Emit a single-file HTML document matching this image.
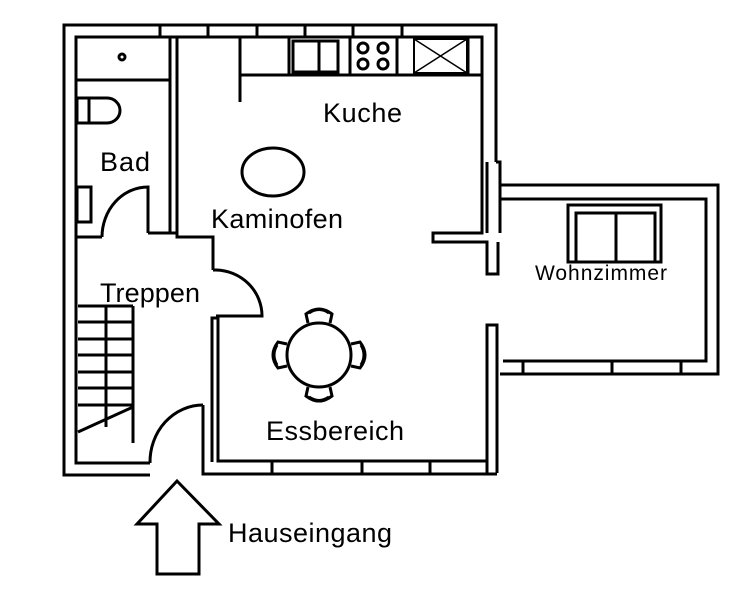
<!DOCTYPE html>
<html><head><meta charset="utf-8"><style>
html,body{margin:0;padding:0;background:#fff;width:751px;height:592px;overflow:hidden}
svg{display:block}
text{font-family:"Liberation Sans",sans-serif;fill:#000}
</style></head><body>
<svg width="751" height="592" viewBox="0 0 751 592" xmlns="http://www.w3.org/2000/svg">
<g fill="none" stroke="#000" stroke-width="3">
<polyline points="150,475 64,475 64,25 496,25 496,162"/>
<polyline points="150,463 76,463 76,37 482,37 482,162"/>
<line x1="160" y1="25" x2="160" y2="37"/><line x1="208" y1="25" x2="208" y2="37"/><line x1="257" y1="25" x2="257" y2="37"/><line x1="305" y1="25" x2="305" y2="37"/><line x1="353" y1="25" x2="353" y2="37"/><line x1="402" y1="25" x2="402" y2="37"/>
<polyline points="482,162 482,233 433,233 433,242 487,242 487,274 498,274 498,242"/>
<polyline points="496,162 500,162 500,233"/>
<line x1="487" y1="162" x2="487" y2="233"/>
<polyline points="487,473 487,325 497,325 497,473"/>
<polyline points="203,405 203,474 497,474"/>
<polyline points="212,462 212,318 218,318 218,461 487,461"/>
<line x1="272" y1="461" x2="272" y2="474"/><line x1="362" y1="461" x2="362" y2="474"/><line x1="430" y1="461" x2="430" y2="474"/>
<path d="M150,463 A53,57 0 0 1 203,405"/>
<polyline points="170,37 170,233 148,233"/>
<polyline points="177,37 177,237 213,237 213,270"/>
<polyline points="102,237 76,237"/>
<line x1="170" y1="233" x2="177" y2="233"/>
<path d="M102,237 A46,50 0 0 1 148,187 L148,233"/>
<line x1="76" y1="80" x2="170" y2="80"/>
<circle cx="122" cy="57" r="3"/>
<rect x="77" y="98" width="12" height="25"/>
<path d="M89,98 L107,98 A13,12.5 0 0 1 107,123 L89,123"/>
<rect x="77" y="187" width="14" height="35"/>
<polyline points="213,270 218,270"/>
<path d="M216,270 A47,46 0 0 1 262,316 L216,316"/>
<line x1="78" y1="306" x2="133" y2="306"/><line x1="78" y1="322" x2="133" y2="322"/><line x1="78" y1="339" x2="133" y2="339"/><line x1="78" y1="355" x2="133" y2="355"/><line x1="78" y1="372" x2="133" y2="372"/><line x1="78" y1="388" x2="133" y2="388"/><line x1="78" y1="405" x2="133" y2="405"/>
<line x1="133" y1="306" x2="133" y2="443"/><line x1="106" y1="306" x2="106" y2="427"/>
<line x1="78" y1="432" x2="133" y2="407"/>
<polyline points="240,102 240,37"/>
<line x1="240" y1="75" x2="482" y2="75"/>
<line x1="289" y1="37" x2="289" y2="75"/><line x1="350" y1="37" x2="350" y2="75"/><line x1="397" y1="37" x2="397" y2="75"/><line x1="468" y1="37" x2="468" y2="75"/>
<rect x="293" y="41" width="45" height="31"/><line x1="319" y1="41" x2="319" y2="72"/>
<circle cx="363" cy="48" r="5"/><circle cx="383" cy="48" r="5"/><circle cx="363" cy="64" r="5"/><circle cx="383" cy="64" r="5"/>
<rect x="414" y="39" width="53" height="34" stroke-width="2"/><line x1="414" y1="39" x2="467" y2="73" stroke-width="1.5"/><line x1="467" y1="39" x2="414" y2="73" stroke-width="1.5"/>
<ellipse cx="273" cy="172" rx="31" ry="24"/>
<circle cx="319" cy="355" r="32"/>
<path d="M308,323 L306,314 Q319,304 332,314 L330,323"/><path d="M309,313 Q319,306 329,313"/>
<path d="M308,387 L306,396 Q319,406 332,396 L330,387"/><path d="M309,397 Q319,404 329,397"/>
<path d="M287,344 L278,342 Q268,355 278,368 L287,366"/><path d="M277,345 Q271,355 277,365"/>
<path d="M351,344 L360,342 Q370,355 360,368 L351,366"/><path d="M361,345 Q367,355 361,365"/>
<polyline points="500,185 718,185 718,374 500,374"/>
<polyline points="500,199 706,199 706,361 503,361"/>
<line x1="523" y1="361" x2="523" y2="374"/><line x1="612" y1="361" x2="612" y2="374"/><line x1="681" y1="361" x2="681" y2="374"/>
<rect x="568" y="205" width="93" height="57"/>
<polyline points="576,262 576,213 655,213 655,262"/>
<line x1="616" y1="213" x2="616" y2="262"/>
<polygon points="177,481 219,524 199,524 199,574 157,574 157,524 137,524"/>
</g>
<text x="323" y="122" font-size="27" textLength="79">Kuche</text>
<text x="100" y="171" font-size="27" textLength="50">Bad</text>
<text x="211" y="228" font-size="27" textLength="132">Kaminofen</text>
<text x="100" y="302" font-size="27" textLength="100">Treppen</text>
<text x="266" y="440" font-size="27" textLength="138">Essbereich</text>
<text x="535" y="280" font-size="21" textLength="132">Wohnzimmer</text>
<text x="228" y="542" font-size="27" textLength="164">Hauseingang</text>
</svg>
</body></html>
